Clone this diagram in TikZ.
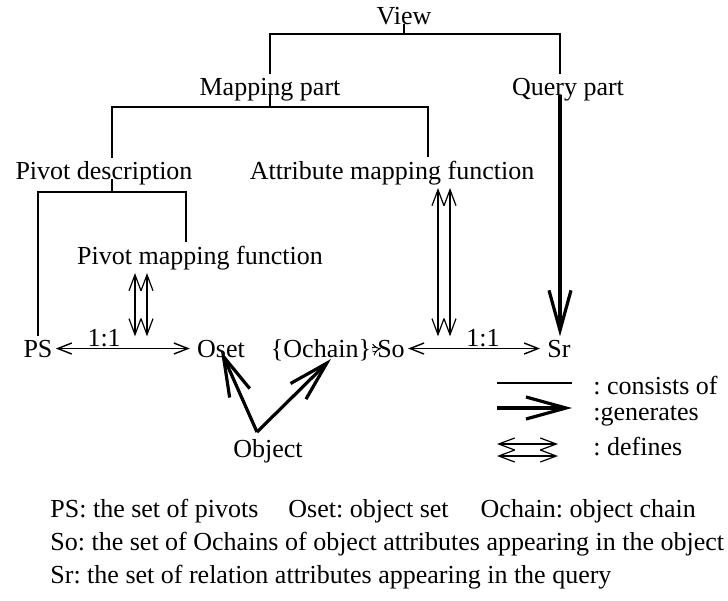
\documentclass[tikz,border=0pt]{standalone}
\usepackage{fontspec}
\setmainfont{Liberation Serif}
\usetikzlibrary{positioning,arrows.meta}
\frenchspacing

\tikzset{
  lbl/.style={inner sep=1.5pt, anchor=base, font=\fontsize{13}{15}\selectfont},
  note/.style={inner sep=0pt, anchor=base west, font=\fontsize{13}{15}\selectfont},
  consists/.style={line width=0.8pt},
  generates/.style={line width=1.6pt, -{Straight Barb[length=20pt,width=11pt,line width=1.6pt]}},
  onetoone/.style={line width=0.7pt, shorten >=2pt,
    {Straight Barb[length=7pt,width=5.5pt]}-{Straight Barb[length=7pt,width=5.5pt]}},
  defline/.style={line width=0.6pt,
    {Straight Barb[length=8pt,width=6pt]}-{Straight Barb[length=8pt,width=6pt]}},
}

\begin{document}
\begin{tikzpicture}[x=0.5pt, y=-0.5pt]
\useasboundingbox (0,0) rectangle (728,600);

% tree of the view
\node[lbl] (view) at (404,24) {View};
\node[lbl] (mapping) at (270,95) {Mapping part};
\node[lbl] (query) at (568,95) {Query part};
\node[lbl] (pd) at (104,179) {Pivot description};
\node[lbl] (amf) at (392,179) {Attribute mapping function};
\node[lbl] (pmf) at (200,264) {Pivot mapping function};

% sets
\node[lbl] (ps) at (38,357) {PS};
\node[lbl] (oset) at (221,357) {Oset};
\node[lbl] (ochain) at (321,357) {\{Ochain\}};
\node[lbl] (so) at (391,357) {So};
\node[lbl] (sr) at (559,357) {Sr};
\node[lbl] (obj) at (268,457) {Object};

\coordinate (b1r) at (560,34);
\coordinate (b2l) at (112,107);
\coordinate (b2r) at (428,107);
\coordinate (b3l) at (38,192);
\coordinate (b3r) at (186,192);

% consists of
\draw[consists] (view.base) -- (view.base |- b1r);
\draw[consists] (mapping.north) |- (b1r) -- (b1r |- query.north);
\draw[consists] (mapping.base) -- (mapping.base |- b2l);
\draw[consists] (pd.north -| b2l) -- (b2l) -- (b2r) -- (b2r |- amf.north);
\draw[consists] (b2l |- pd.base) -- (b2l |- b3l);
\draw[consists] (ps.north) -- (b3l) -- (b3r) -- (b3r |- pmf.north);

% defines
\coordinate (pm1) at (135,0);
\coordinate (pm2) at (147,0);
\coordinate (ad1) at (438,0);
\coordinate (ad2) at (450,0);
\draw[defline] (pm1 |- pmf.south) -- (pm1 |- ps.north);
\draw[defline] (pm2 |- pmf.south) -- (pm2 |- ps.north);
\draw[defline] (ad1 |- amf.south) -- (ad1 |- so.north);
\draw[defline] (ad2 |- amf.south) -- (ad2 |- so.north);

% one to one
\draw[onetoone] (ps.east) -- node[pos=0.35, above, inner sep=0.5pt, font=\fontsize{13}{15}\selectfont] {1:1} (oset.west);
\draw[onetoone] (so.east) -- node[pos=0.55, above, inner sep=0.5pt, font=\fontsize{13}{15}\selectfont] {1:1} (sr.west);
\draw[line width=0.5pt, double equal sign distance, -{Implies}] ([xshift=-1pt]ochain.east) -- ([xshift=3.5pt]so.west);

% generates
\coordinate (apex) at (257,432);
\draw[generates] (b1r |- query.base) -- (b1r |- sr.north);
\draw[generates] (apex) -- ([yshift=3pt]oset.base);
\draw[generates] (apex) -- ([xshift=5pt,yshift=-1pt]ochain.base);

% legend
\coordinate (lg1) at (497,383);
\coordinate (lg2) at (497,408);
\coordinate (lg3) at (497,444);
\coordinate (lg4) at (497,456);
\draw[consists] (lg1) -- ++(75,0);
\draw[generates] (lg2) -- ++(75,0);
\draw[defline] (lg3) -- ++(61,0);
\draw[defline] (lg4) -- ++(61,0);
\node[note] (lgc) at (593,394) {: consists of};
\node[note] (lgg) at (593,420) {:generates};
\node[note] (lgd) at (593,455) {: defines};

% key to the names
\node[note] (key1) at (50,517) {PS: the set of pivots\hspace{15pt}Oset: object set\hspace{16pt}Ochain: object chain};
\node[note] (key2) at (50,550) {So: the set of Ochains of object attributes appearing in the object};
\node[note] (key3) at (50,583) {Sr: the set of relation attributes appearing in the query};
\end{tikzpicture}
\end{document}
